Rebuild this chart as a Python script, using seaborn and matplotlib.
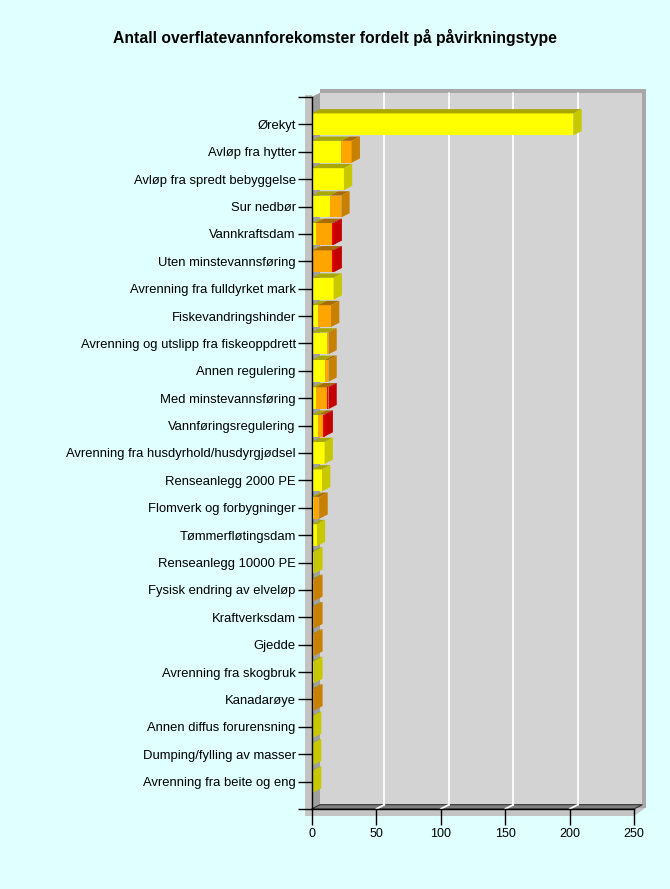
import numpy as np
import pandas as pd
import matplotlib
matplotlib.use("Agg")
import matplotlib.pyplot as plt
from matplotlib.patches import Polygon, Rectangle
import seaborn as sns

# ---------------- data ----------------
categories = ["Ørekyt", "Avløp fra hytter", "Avløp fra spredt bebyggelse", "Sur nedbør",
              "Vannkraftsdam", "Uten minstevannsføring", "Avrenning fra fulldyrket mark",
              "Fiskevandringshinder", "Avrenning og utslipp fra fiskeoppdrett", "Annen regulering",
              "Med minstevannsføring", "Vannføringsregulering",
              "Avrenning fra husdyrhold/husdyrgjødsel", "Renseanlegg 2000 PE",
              "Flomverk og forbygninger", "Tømmerfløtingsdam", "Renseanlegg 10000 PE",
              "Fysisk endring av elveløp", "Kraftverksdam", "Gjedde", "Avrenning fra skogbruk",
              "Kanadarøye", "Annen diffus forurensning", "Dumping/fylling av masser",
              "Avrenning fra beite og eng"]
small = [203, 23, 25, 14, 3, 1, 17, 5, 12, 10, 3, 5, 10, 8, 2, 4, 2, 1, 1, 1, 2, 1, 1, 1, 1]
moderate = [0, 8, 0, 9, 13, 15, 0, 10, 1, 3, 9, 4, 0, 0, 4, 0, 0, 1, 1, 1, 0, 1, 0, 0, 0]
large = [0, 0, 0, 0, 1, 1, 0, 0, 0, 0, 1, 1, 0, 0, 0, 0, 0, 0, 0, 0, 0, 0, 0, 0, 0]
x_ticks = [0, 50, 100, 150, 200, 250]
title = "Antall overflatevannforekomster fordelt på påvirkningstype"

# ---------------- style ----------------
sns.set_theme(style="white")
plt.rcParams['font.family'] = ['Liberation Sans', 'DejaVu Sans']
plt.rcParams['text.color'] = 'black'

BG = '#E0FFFF'
FRONT = ['#FFFF00', '#FFA500', '#F00000']
TOP = ['#A8A800', '#A86C00', '#A00000']
SIDE = ['#C8C800', '#C88000', '#C40000']

W, H = 670, 889
fig = plt.figure(figsize=(W / 100, H / 100), dpi=100, facecolor=BG)
L, R, T, B = 311.7, 634.0, 97.0, 809.0
ax = fig.add_axes([L / W, 1 - B / H, (R - L) / W, (B - T) / H])
ax.patch.set_alpha(0)

XMAX = x_ticks[-1]
ux = XMAX / (R - L)          # data units per px (x)
uy = 26.0 / (B - T)          # slots per px (y)
DX = 8.3 * ux
DY = 4.3 * uy
YT, YB = -1, 25

df = pd.DataFrame({'cat': categories, 'small': small, 'moderate': moderate, 'large': large})
df['c1'] = df['small']
df['c2'] = df['small'] + df['moderate']
df['c3'] = df['c2'] + df['large']

# ---------------- box (walls) ----------------
def poly(pts, color, z, **kw):
    ax.add_patch(Polygon(pts, closed=True, facecolor=color, edgecolor=kw.pop('ec', 'none'),
                         lw=kw.pop('lw', 0), zorder=z, clip_on=False, **kw))

t = 7.0  # slab thickness px
poly([(-6.7 * ux, YT - 1.5 * uy), (0, YT - 1.5 * uy), (0, YB + t * uy), (-6.7 * ux, YB + t * uy)], '#C4C4C4', 0.1)
poly([(-6.7 * ux, YB), (XMAX, YB), (XMAX + DX + 3.3 * ux, YB - DY), (XMAX + DX + 3.3 * ux, YB - DY + 3 * uy),
      (XMAX, YB + t * uy), (-6.7 * ux, YB + t * uy)], '#C4C4C4', 0.1)
poly([(DX, YT - DY - 3.3 * uy), (XMAX + DX + 3.3 * ux, YT - DY - 3.3 * uy),
      (XMAX + DX + 3.3 * ux, YB - DY + 3 * uy), (DX, YB - DY + 3 * uy)], '#A8A8A8', 0.2)
poly([(DX, YT - DY), (XMAX + DX, YT - DY), (XMAX + DX, YB - DY), (DX, YB - DY)], '#D3D3D3', 0.3)
poly([(0, YT), (DX, YT - DY), (DX, YB - DY), (0, YB)], '#A0A0A0', 0.4)
poly([(0, YB), (DX, YB - DY), (XMAX + DX, YB - DY), (XMAX, YB)], '#808080', 0.4, ec='#303030', lw=0.8)
for xv in x_ticks[1:-1]:
    ax.plot([xv + DX, xv + DX], [YT - DY, YB - DY], color='white', lw=1.3, zorder=0.5, clip_on=False)
    ax.plot([xv, xv + DX], [YB, YB - DY], color='white', lw=1.3, zorder=0.5, clip_on=False)

# ---------------- bars (front faces) ----------------
for col, c in zip(['c3', 'c2', 'c1'], [FRONT[2], FRONT[1], FRONT[0]]):
    sns.barplot(data=df, x=col, y='cat', color=c, saturation=1, width=0.8,
                linewidth=0, edgecolor='none', ax=ax, zorder=2)

# ---------------- 3D top / side faces ----------------
hw = 0.4
for i, (s, m, l) in enumerate(zip(small, moderate, large)):
    segs = []
    x0 = 0
    for k, v in enumerate([s, m, l]):
        if v > 0:
            segs.append((x0, x0 + v, k))
            x0 += v
    for (a, b, k) in segs:
        poly([(a, i - hw), (b, i - hw), (b + DX, i - hw - DY), (a + DX, i - hw - DY)], TOP[k], 2.1)
    a, b, k = segs[-1]
    poly([(b, i - hw), (b + DX, i - hw - DY), (b + DX, i + hw - DY), (b, i + hw)], SIDE[k], 2.1)

# ---------------- axes ----------------
ax.set_xlim(0, XMAX)
ax.set_ylim(YB, YT)
ax.set_xticks(x_ticks)
ax.set_xticklabels([str(v) for v in x_ticks])
ax.set_yticks(list(range(YT, YB + 1)))
ax.set_yticklabels([''] + categories + [''])
ax.set_xlabel('')
ax.set_ylabel('')
for sp in ['top', 'right']:
    ax.spines[sp].set_visible(False)
for sp in ['left', 'bottom']:
    ax.spines[sp].set_color('black')
    ax.spines[sp].set_linewidth(1.0)
    ax.spines[sp].set_zorder(3)
ax.tick_params(axis='y', which='major', left=True, length=9.9, width=1, color='black',
               direction='out', pad=1.5, labelsize=9.4, labelcolor='black')
ax.tick_params(axis='x', which='major', bottom=True, length=11.5, width=1, color='black',
               direction='out', pad=2, labelsize=9, labelcolor='black')
ax.grid(False)

fig.text(0.5, 1 - 38 / H, title, ha='center', va='center', fontsize=11.3,
         fontweight='bold', color='black')

fig.savefig('out.png', dpi=100, facecolor=BG)
